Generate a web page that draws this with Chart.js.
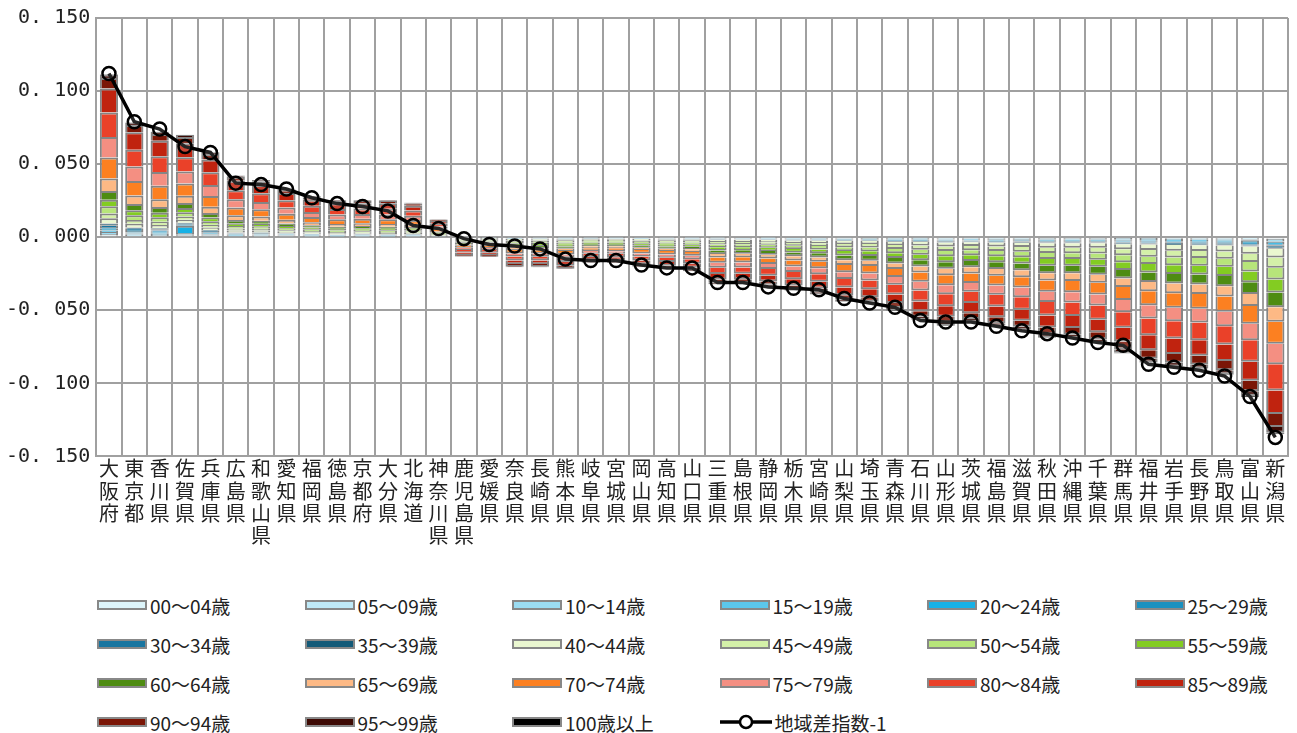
<!DOCTYPE html>
<html><head><meta charset="utf-8">
<script src="https://cdn.jsdelivr.net/npm/chart.js@4"></script>
<style>
body{margin:0;background:#fff;font-family:"Noto Sans CJK JP",sans-serif;}
#wrap{position:relative;width:1297px;height:548px;}
#legend{display:grid;grid-template-columns:repeat(6,207.5px);margin-left:97px;margin-top:45px;row-gap:15px;font-size:19px;color:#222;}
.it{display:flex;align-items:center;height:24px;}
.bx{width:50px;height:10px;border:2px solid #888;margin-right:3px;box-sizing:border-box;}
</style></head><body>
<div id="wrap"><canvas id="c"></canvas></div>
<div id="legend"></div>
<script>
const prefectures = ['大阪府','東京都','香川県','佐賀県','兵庫県','広島県','和歌山県','愛知県','福岡県','徳島県','京都府','大分県','北海道','神奈川県','鹿児島県','愛媛県','奈良県','長崎県','熊本県','岐阜県','宮城県','岡山県','高知県','山口県','三重県','島根県','静岡県','栃木県','宮崎県','山梨県','埼玉県','青森県','石川県','山形県','茨城県','福島県','滋賀県','秋田県','沖縄県','千葉県','群馬県','福井県','岩手県','長野県','鳥取県','富山県','新潟県'];
const ageGroups = ['00～04歳','05～09歳','10～14歳','15～19歳','20～24歳','25～29歳','30～34歳','35～39歳','40～44歳','45～49歳','50～54歳','55～59歳','60～64歳','65～69歳','70～74歳','75～79歳','80～84歳','85～89歳','90～94歳','95～99歳','100歳以上'];
const ageColors = ['#ddf5fb','#bfe9f7','#9bdcf2','#5bc7ec','#16b1e6','#1a91c0','#1875a0','#135a78','#eaf7d0','#d4f0a8','#b7e57a','#83cc22','#4e8c12','#fdb985','#fc8021','#f48f82','#ea4129','#c0230f','#7b1606','#3d0a04','#000000'];
// contributions, in thousandths
const a00 = [1.2,0.8,0.8,0.7,0.6,-0.5,0.4,0.4,0.3,-0.3,0.3,-0.3,0.3,0.2,-0.1,-0.1,-0.2,-0.2,-0.2,-0.1,-0.1,-0.2,-0.2,-0.2,-0.2,-0.3,-0.2,-0.3,-0.3,-0.3,-0.3,-0.4,-0.4,-0.5,-0.4,-0.4,-0.5,-0.5,-0.5,-0.5,-0.6,-0.6,-0.7,-0.7,-0.7,-0.8,-1.0];
const a05 = [1.0,0.9,0.7,0.7,0.5,0.5,0.4,0.3,0.3,0.3,0.2,0.3,0.3,0.1,-0.1,-0.1,-0.1,-0.2,-0.2,-0.1,-0.2,-0.1,-0.2,-0.2,-0.3,-0.2,-0.3,-0.2,-0.3,-0.4,-0.3,-0.4,-0.4,-0.4,-0.5,-0.5,-0.4,-0.5,-0.6,-0.5,-0.6,-0.7,-0.6,-0.7,-0.7,-0.8,-0.9];
const a10 = [1.3,0.8,0.8,0.6,0.7,0.4,0.4,0.4,0.3,0.2,0.3,0.2,0.3,0.1,-0.1,-0.1,-0.2,-0.1,-0.2,-0.2,-0.1,-0.2,-0.1,-0.2,-0.2,-0.3,-0.3,-0.3,-0.3,-0.3,-0.4,-0.4,-0.4,-0.5,-0.4,-0.5,-0.5,-0.6,-0.5,-0.6,-0.6,-0.6,-0.7,-0.6,-0.7,-0.8,-1.0];
const a15 = [1.1,0.8,0.7,0.8,0.6,0.5,0.4,0.3,0.3,0.3,0.3,0.3,0.2,0.1,-0.1,-0.1,-0.1,-0.2,-0.1,-0.1,-0.2,-0.1,-0.2,-0.1,-0.3,-0.2,-0.2,-0.3,-0.3,-0.3,-0.3,-0.4,-0.4,-0.4,-0.4,-0.5,-0.5,-0.5,-0.5,-0.5,-0.6,-0.6,-0.7,-0.7,-0.7,-0.8,-1.0];
const a20 = [1.2,0.9,0.8,5.0,0.6,0.5,0.4,0.4,0.3,0.3,0.3,0.3,0.3,0.1,-0.1,-0.1,-0.2,-0.2,-0.2,-0.1,-0.1,-0.2,-0.2,-0.2,-0.2,-0.2,-0.3,-0.3,-0.3,-0.3,-0.3,-0.4,-0.4,-0.5,-0.4,-0.4,-0.5,-0.5,-0.5,-0.5,-0.6,-0.6,-0.7,-0.7,-0.7,-0.8,-1.0];
const a25 = [1.2,0.8,0.8,0.7,0.6,0.4,0.4,0.3,0.3,0.3,0.3,0.3,0.3,0.1,-0.1,-0.1,-0.1,-0.2,-0.2,-0.1,-0.1,-0.1,-0.2,-0.2,-0.2,-0.2,-0.2,-0.3,-0.3,-0.3,-0.4,-0.4,-0.4,-0.4,-0.4,-0.5,-0.5,-0.5,-0.5,-0.5,-0.6,-0.6,-0.6,-0.7,-0.7,-0.8,-1.0];
const a30 = [1.2,0.8,0.8,0.7,0.6,0.4,0.4,0.3,0.3,0.3,0.3,0.3,0.2,0.1,-0.1,-0.1,-0.2,-0.2,-0.2,-0.1,-0.1,-0.2,-0.2,-0.2,-0.2,-0.2,-0.3,-0.3,-0.3,-0.3,-0.3,-0.4,-0.4,-0.5,-0.4,-0.5,-0.5,-0.5,-0.5,-0.5,-0.6,-0.6,-0.7,-0.7,-0.7,-0.8,-1.0];
const a35 = [1.1,0.9,0.7,0.7,0.6,0.5,0.4,0.3,0.3,0.2,0.3,0.3,0.3,0.1,-0.1,-0.1,-0.2,-0.1,-0.2,-0.2,-0.1,-0.2,-0.2,-0.2,-0.3,-0.2,-0.2,-0.3,-0.3,-0.4,-0.3,-0.4,-0.4,-0.4,-0.5,-0.4,-0.5,-0.5,-0.6,-0.5,-0.6,-0.7,-0.6,-0.7,-0.7,-0.8,-1.0];
const a40 = [3.6,2.5,2.3,2.1,1.9,1.4,1.3,1.0,0.9,0.8,0.8,0.8,0.8,0.4,-0.6,-0.6,-0.9,-0.9,-1.0,-0.8,-0.8,-0.9,-1.0,-1.0,-1.4,-1.4,-1.5,-1.6,-1.7,-2.0,-2.0,-2.2,-2.5,-2.7,-2.6,-2.7,-2.8,-3.1,-3.1,-3.2,-3.5,-3.8,-4.0,-4.0,-4.2,-4.9,-6.0];
const a45 = [3.4,2.6,2.2,2.2,1.8,1.3,1.3,1.1,0.9,0.8,0.9,0.8,0.7,0.4,-0.7,-0.7,-1.0,-1.1,-1.1,-0.9,-0.9,-1.0,-1.1,-1.2,-1.7,-1.7,-1.7,-1.9,-2.0,-2.3,-2.4,-2.6,-2.9,-3.1,-3.0,-3.1,-3.3,-3.6,-3.6,-3.8,-4.1,-4.5,-4.6,-4.7,-4.9,-5.7,-7.0];
const a50 = [4.8,3.3,3.1,2.8,2.5,1.8,1.7,1.4,1.2,1.1,1.1,1.1,1.0,0.5,-0.8,-0.8,-1.2,-1.2,-1.3,-1.0,-1.0,-1.2,-1.3,-1.4,-1.9,-1.9,-2.0,-2.2,-2.3,-2.6,-2.7,-3.0,-3.4,-3.6,-3.4,-3.6,-3.8,-4.1,-4.1,-4.3,-4.7,-5.1,-5.3,-5.4,-5.6,-6.5,-8.0];
const a55 = [4.6,3.4,3.0,2.9,2.4,1.8,1.7,1.4,1.2,1.1,1.1,1.1,1.0,0.5,-0.9,-0.9,-1.4,-1.4,-1.4,-1.2,-1.2,-1.4,-1.4,-1.5,-2.2,-2.2,-2.3,-2.4,-2.6,-3.0,-3.1,-3.3,-3.8,-4.1,-3.9,-4.1,-4.2,-4.6,-4.6,-4.9,-5.3,-5.8,-5.9,-6.0,-6.3,-7.3,-9.0];
const a60 = [6.0,4.2,3.9,3.5,3.1,2.3,2.1,1.8,1.5,1.4,1.4,1.4,1.3,0.7,-1.0,-1.0,-1.5,-1.5,-1.6,-1.3,-1.3,-1.5,-1.6,-1.7,-2.4,-2.4,-2.5,-2.7,-2.9,-3.3,-3.4,-3.7,-4.2,-4.5,-4.3,-4.5,-4.7,-5.1,-5.1,-5.4,-5.9,-6.4,-6.6,-6.7,-7.0,-8.1,-10.0];
const a65 = [8.4,5.8,5.4,4.9,4.3,3.2,2.9,2.5,2.1,1.9,1.9,1.9,1.8,0.9,-1.0,-1.1,-1.5,-1.4,-1.6,-1.3,-1.4,-1.5,-1.6,-1.8,-2.4,-2.3,-2.5,-2.8,-2.9,-3.2,-3.5,-3.7,-4.2,-4.4,-4.3,-4.6,-4.7,-5.0,-5.2,-5.4,-5.8,-6.4,-6.7,-6.6,-7.0,-8.2,-10.0];
const a70 = [14.4,10.0,9.2,8.4,7.4,5.4,5.0,4.2,3.6,3.2,3.2,3.2,3.0,1.6,-1.5,-1.5,-2.3,-2.3,-2.4,-2.0,-2.0,-2.3,-2.4,-2.6,-3.6,-3.6,-3.8,-4.1,-4.4,-5.0,-5.1,-5.6,-6.3,-6.8,-6.5,-6.8,-7.1,-7.7,-7.7,-8.1,-8.9,-9.6,-9.9,-10.1,-10.5,-12.2,-15.0];
const a75 = [14.0,9.8,9.4,8.2,7.5,5.5,4.9,4.3,3.5,3.3,3.1,3.3,2.9,1.5,-1.4,-1.4,-2.1,-2.1,-2.2,-1.8,-1.8,-2.1,-2.2,-2.4,-3.4,-3.4,-3.5,-3.8,-4.1,-4.6,-4.8,-5.2,-5.9,-6.3,-6.0,-6.3,-6.6,-7.1,-7.1,-7.6,-8.3,-9.0,-9.2,-9.4,-9.8,-11.3,-14.0];
const a80 = [16.8,11.6,10.8,9.8,8.7,6.3,5.9,4.9,4.2,3.8,3.8,3.8,3.5,1.8,-1.8,-1.8,-2.7,-2.7,-2.9,-2.3,-2.3,-2.7,-2.9,-3.1,-4.3,-4.3,-4.5,-4.9,-5.2,-5.9,-6.1,-6.7,-7.6,-8.1,-7.7,-8.1,-8.5,-9.2,-9.2,-9.7,-10.6,-11.5,-11.9,-12.1,-12.6,-14.6,-18.0];
const a85 = [16.5,11.9,10.6,9.6,8.8,6.4,5.8,5.0,4.1,3.9,3.7,3.9,3.4,1.9,-1.6,-1.6,-2.4,-2.4,-2.6,-2.1,-2.1,-2.4,-2.6,-2.7,-3.8,-3.8,-4.0,-4.3,-4.6,-5.3,-5.4,-5.9,-6.7,-7.2,-6.9,-7.2,-7.5,-8.2,-8.2,-8.6,-9.4,-10.2,-10.6,-10.7,-11.2,-13.0,-16.0];
const a90 = [7.2,5.0,4.6,4.2,3.7,2.7,2.5,2.1,1.8,1.6,1.6,1.6,1.5,0.8,-0.9,-0.9,-1.4,-1.4,-1.4,-1.2,-1.2,-1.4,-1.4,-1.5,-2.2,-2.2,-2.3,-2.4,-2.6,-3.0,-3.1,-3.3,-3.8,-4.1,-3.9,-4.1,-4.2,-4.6,-4.6,-4.9,-5.3,-5.8,-5.9,-6.0,-6.3,-7.3,-9.0];
const a95 = [2.4,1.7,1.5,1.4,1.2,0.9,0.8,0.7,0.6,0.5,0.5,0.5,0.5,0.3,-0.4,-0.4,-0.6,-0.6,-0.6,-0.5,-0.5,-0.6,-0.6,-0.7,-1.0,-1.0,-1.0,-1.1,-1.2,-1.3,-1.4,-1.5,-1.7,-1.8,-1.7,-1.8,-1.9,-2.0,-2.0,-2.2,-2.4,-2.6,-2.6,-2.7,-2.8,-3.2,-4.0];
const a100 = [0.3,0.2,0.2,0.2,0.1,0.1,0.1,0.1,0.1,0.1,0.1,0.1,0.1,0.0,-0.1,-0.1,-0.2,-0.2,-0.2,-0.1,-0.1,-0.2,-0.2,-0.2,-0.2,-0.2,-0.3,-0.3,-0.3,-0.3,-0.3,-0.4,-0.4,-0.5,-0.4,-0.5,-0.5,-0.5,-0.5,-0.5,-0.6,-0.6,-0.7,-0.7,-0.7,-0.8,-1.0];
const indexMinus1 = [0.112,0.079,0.074,0.062,0.058,0.037,0.036,0.033,0.027,0.023,0.021,0.018,0.008,0.006,-0.001,-0.005,-0.006,-0.008,-0.015,-0.016,-0.016,-0.019,-0.021,-0.021,-0.031,-0.031,-0.034,-0.035,-0.036,-0.042,-0.045,-0.048,-0.057,-0.058,-0.058,-0.061,-0.064,-0.066,-0.069,-0.072,-0.074,-0.087,-0.089,-0.091,-0.095,-0.109,-0.137];
const yTicks = [-0.15,-0.1,-0.05,0,0.05,0.1,0.15];

const ageSeries = [a00,a05,a10,a15,a20,a25,a30,a35,a40,a45,a50,a55,a60,a65,a70,a75,a80,a85,a90,a95,a100];
const datasets = ageSeries.map((s,i)=>({
  type:'bar', label:ageGroups[i], data:s.map(v=>v/1000), stack:'age',
  backgroundColor:ageColors[i], borderColor:'#858585', borderWidth:2,
  barPercentage:0.72, categoryPercentage:1, order:2
}));
datasets.push({
  type:'line', label:'地域差指数-1', data:indexMinus1, stack:'line',
  borderColor:'#000', borderWidth:3.5, pointRadius:6.5, pointBorderWidth:2.5,
  pointBackgroundColor:'rgba(255,255,255,0.15)', pointBorderColor:'#000', order:1
});

const fmt = v => {
  const s = Math.abs(v).toFixed(3).replace('.', '. ');
  return (v < -1e-9 ? '-' : '') + s;
};

new Chart(document.getElementById('c'), {
  data:{ labels:prefectures.map(p=>p.split('')), datasets },
  options:{
    responsive:true, maintainAspectRatio:false, animation:false,
    layout:{padding:{top:12,right:8,left:0}},
    plugins:{legend:{display:false}, tooltip:{enabled:false}},
    scales:{
      x:{ stacked:true, offset:true,
        grid:{color:'#a0a0a0', lineWidth:2, offset:true, drawTicks:false},
        border:{color:'#a0a0a0', width:2},
        ticks:{autoSkip:false, maxRotation:0, color:'#222', font:{size:20, family:'"Noto Sans CJK JP"', lineHeight:1.12}, padding:1}
      },
      y:{ stacked:true, min:-0.15, max:0.15,
        afterBuildTicks:ax=>{ ax.ticks = yTicks.map(v=>({value:v})); },
        grid:{color:'#a0a0a0', lineWidth:2, drawTicks:false},
        border:{color:'#a0a0a0', width:2},
        ticks:{callback:fmt, color:'#222', font:{size:20, family:'"DejaVu Sans Mono"'}, padding:6}
      }
    }
  }
});

const lg = document.getElementById('legend');
ageGroups.forEach((g,i)=>{
  lg.insertAdjacentHTML('beforeend', `<div class="it"><span class="bx" style="background:${ageColors[i]}"></span>${g}</div>`);
});
lg.insertAdjacentHTML('beforeend', `<div class="it"><svg width="52" height="20" style="margin-right:3px"><line x1="0" y1="10" x2="52" y2="10" stroke="#000" stroke-width="3.5"/><circle cx="26" cy="10" r="6" fill="#fff" stroke="#000" stroke-width="2.5"/></svg>地域差指数-1</div>`);
</script>
</body></html>
